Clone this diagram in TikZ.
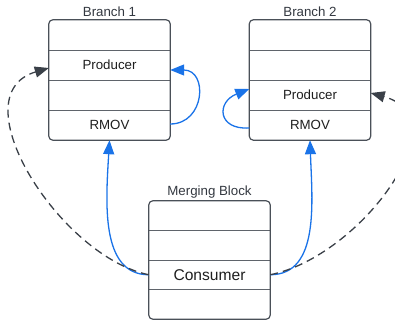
\documentclass[tikz,border=0pt]{standalone}
\usepackage{fontspec}
\setmainfont{Liberation Sans}
\usetikzlibrary{arrows.meta,calc,fit}

\definecolor{edge}{HTML}{4A5058}
\definecolor{rule}{HTML}{5F646B}
\definecolor{flow}{HTML}{1A73E8}
\definecolor{link}{HTML}{3A4048}
\definecolor{ink}{HTML}{1E1E1E}
\definecolor{caption}{HTML}{333840}

\tikzset{
  cell/.style={minimum width=121pt, minimum height=30pt, inner sep=0pt,
    text=ink, font=\fontsize{13.3}{16}\selectfont},
  mcell/.style={cell, minimum height=29.5pt},
  frame/.style={draw=edge, line width=1.2pt, rounded corners=4pt, inner sep=0pt},
  divider/.style={draw=rule, line width=1.1pt},
  caption/.style={text=caption, font=\fontsize{13.3}{16}\selectfont, inner sep=0pt},
  flowarrow/.style={draw=flow, line width=1.3pt,
    -{Triangle[length=14pt,width=11pt]}},
  linkarrow/.style={draw=link, line width=1.3pt, dash pattern=on 8pt off 5pt,
    -{Triangle[length=14pt,width=11pt]}},
}

\begin{document}
\begin{tikzpicture}[x=1pt,y=-1pt]
\clip (0,0) rectangle (395,320);

% Branch 1
\node[caption] (b1title) at (109.5,12) {Branch 1};
\node[cell] (b1r1) at (109.5,35) {};
\node[cell] (b1prod) at (109.5,65) {Producer};
\node[cell] (b1r3) at (109.5,95) {};
\node[cell] (b1rmov) at (109.5,125) {RMOV};

% Branch 2
\node[caption] (b2title) at (310,12) {Branch 2};
\node[cell] (b2r1) at (310,35) {};
\node[cell] (b2r2) at (310,65) {};
\node[cell] (b2prod) at (310,95) {Producer};
\node[cell] (b2rmov) at (310,125) {RMOV};

% Merging block
\node[caption] (mtitle) at (209.5,192) {Merging Block};
\node[mcell] (mr1) at (209.5,215.75) {};
\node[mcell] (mr2) at (209.5,245.25) {};
\node[mcell, font=\fontsize{15.6}{18}\selectfont] (mcons) at (209.5,274.75) {Consumer};
\node[mcell] (mr4) at (209.5,304.25) {};

% row dividers
\foreach \r in {b1r1,b1prod,b1r3,b2r1,b2r2,b2prod,mr1,mr2,mcons}
  \draw[divider] (\r.south west) -- (\r.south east);

% outer frames
\node[frame, fit=(b1r1)(b1rmov)] (b1) {};
\node[frame, fit=(b2r1)(b2rmov)] (b2) {};
\node[frame, fit=(mr1)(mr4)] (mb) {};

% consumer feeds both branches
\draw[flowarrow] (mcons.west) .. controls +(-49,0) and +(-3.5,60) .. (b1rmov.south);
\draw[flowarrow] (mcons.east) .. controls +(50,0) and +(2,60) .. (b2rmov.south);

% cross links back to the producers
\draw[linkarrow] (mcons.west) .. controls +(-89,-18) and +(-91,27)
  .. ($(b1prod.west)+(0,3)$);
\draw[linkarrow] (mcons.east) .. controls +(90,-18) and +(91,25)
  .. ($(b2prod.east)+(0,-2)$);

% RMOV loops back to the producer
\draw[flowarrow] ($(b1rmov.east)+(0,-1)$) .. controls +(35,0) and +(38,0)
  .. ($(b1prod.east)+(0,5)$);
\draw[flowarrow] ($(b2rmov.west)+(0,3)$) .. controls +(-32,2) and +(-33,13)
  .. ($(b2prod.west)+(0,-6)$);
\end{tikzpicture}
\end{document}
